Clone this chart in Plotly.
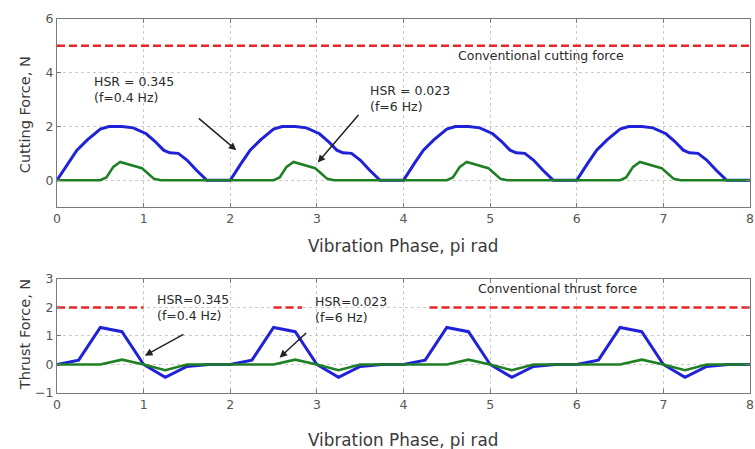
import plotly.graph_objects as go

# ---- data: cutting force (top panel) ----
cut_blue_x = [0, 0.12, 0.23, 0.35, 0.5, 0.6, 0.75, 0.88, 1.03, 1.13, 1.23, 1.3, 1.4, 1.5, 1.61, 1.73,
              2, 2.12, 2.23, 2.35, 2.5, 2.6, 2.75, 2.88, 3.03, 3.13, 3.23, 3.3, 3.4, 3.5, 3.61, 3.73,
              4, 4.12, 4.23, 4.35, 4.5, 4.6, 4.75, 4.88, 5.03, 5.13, 5.23, 5.3, 5.4, 5.5, 5.61, 5.73,
              6, 6.12, 6.23, 6.35, 6.5, 6.6, 6.75, 6.88, 7.03, 7.13, 7.23, 7.3, 7.4, 7.5, 7.61, 7.73, 8]
cut_blue_y = [0, 0.6, 1.12, 1.5, 1.9, 2.0, 2.0, 1.95, 1.73, 1.45, 1.12, 1.02, 1.0, 0.75, 0.37, 0,
              0, 0.6, 1.12, 1.5, 1.9, 2.0, 2.0, 1.95, 1.73, 1.45, 1.12, 1.02, 1.0, 0.75, 0.37, 0,
              0, 0.6, 1.12, 1.5, 1.9, 2.0, 2.0, 1.95, 1.73, 1.45, 1.12, 1.02, 1.0, 0.75, 0.37, 0,
              0, 0.6, 1.12, 1.5, 1.9, 2.0, 2.0, 1.95, 1.73, 1.45, 1.12, 1.02, 1.0, 0.75, 0.37, 0, 0]
cut_green_x = [0, 0.5, 0.57, 0.65, 0.73, 0.85, 0.98, 1.05, 1.12, 1.2,
               2.5, 2.57, 2.65, 2.73, 2.85, 2.98, 3.05, 3.12, 3.2,
               4.5, 4.57, 4.65, 4.73, 4.85, 4.98, 5.05, 5.12, 5.2,
               6.5, 6.57, 6.65, 6.73, 6.85, 6.98, 7.05, 7.12, 7.2, 8]
cut_green_y = [0, 0, 0.1, 0.5, 0.68, 0.57, 0.45, 0.25, 0.05, 0,
               0, 0.1, 0.5, 0.68, 0.57, 0.45, 0.25, 0.05, 0,
               0, 0.1, 0.5, 0.68, 0.57, 0.45, 0.25, 0.05, 0,
               0, 0.1, 0.5, 0.68, 0.57, 0.45, 0.25, 0.05, 0, 0]
cut_conv_x = [0, 8]
cut_conv_y = [5, 5]

# ---- data: thrust force (bottom panel) ----
thr_blue_x = [0, 0.25, 0.5, 0.75, 1.0, 1.25, 1.5, 1.75, 2.0,
              2.25, 2.5, 2.75, 3.0, 3.25, 3.5, 3.75, 4.0,
              4.25, 4.5, 4.75, 5.0, 5.25, 5.5, 5.75, 6.0,
              6.25, 6.5, 6.75, 7.0, 7.25, 7.5, 7.75, 8.0]
thr_blue_y = [0, 0.15, 1.3, 1.15, 0, -0.45, -0.07, 0, 0,
              0.15, 1.3, 1.15, 0, -0.45, -0.07, 0, 0,
              0.15, 1.3, 1.15, 0, -0.45, -0.07, 0, 0,
              0.15, 1.3, 1.15, 0, -0.45, -0.07, 0, 0]
thr_green_x = [0, 0.5, 0.75, 1.0, 1.25, 1.5,
               2.5, 2.75, 3.0, 3.25, 3.5,
               4.5, 4.75, 5.0, 5.25, 5.5,
               6.5, 6.75, 7.0, 7.25, 7.5, 8.0]
thr_green_y = [0, 0, 0.17, 0, -0.2, 0,
               0, 0.17, 0, -0.2, 0,
               0, 0.17, 0, -0.2, 0,
               0, 0.17, 0, -0.2, 0, 0]
thr_conv_x = [0, 1.0, None, 2.5, 2.83, None, 4.3, 8]
thr_conv_y = [2, 2, None, 2, 2, None, 2, 2]

x_ticks = [0, 1, 2, 3, 4, 5, 6, 7, 8]
cut_yticks = [0, 2, 4, 6]
thr_yticks = [-1, 0, 1, 2, 3]

BLUE = "#1f22d6"
GREEN = "#1f7f24"
RED = "#e8262b"
DASH = "8px,4px"

fig = go.Figure()
fig.add_trace(go.Scatter(x=cut_conv_x, y=cut_conv_y, mode="lines",
                         line=dict(color=RED, width=2.5, dash=DASH), xaxis="x", yaxis="y"))
fig.add_trace(go.Scatter(x=cut_blue_x, y=cut_blue_y, mode="lines",
                         line=dict(color=BLUE, width=3), xaxis="x", yaxis="y"))
fig.add_trace(go.Scatter(x=cut_green_x, y=cut_green_y, mode="lines",
                         line=dict(color=GREEN, width=2.6), xaxis="x", yaxis="y"))
fig.add_trace(go.Scatter(x=thr_conv_x, y=thr_conv_y, mode="lines",
                         line=dict(color=RED, width=2.5, dash=DASH), xaxis="x2", yaxis="y2"))
fig.add_trace(go.Scatter(x=thr_blue_x, y=thr_blue_y, mode="lines",
                         line=dict(color=BLUE, width=3), xaxis="x2", yaxis="y2"))
fig.add_trace(go.Scatter(x=thr_green_x, y=thr_green_y, mode="lines",
                         line=dict(color=GREEN, width=2.6), xaxis="x2", yaxis="y2"))

axis_common = dict(showgrid=True, gridcolor="#cccccc", griddash="dot", gridwidth=1,
                   showline=True, linecolor="#7a7a7a", linewidth=1, mirror="ticks",
                   ticks="inside", ticklen=4, tickcolor="#7a7a7a", automargin=False,
                   zeroline=False, tickfont=dict(family="DejaVu Sans", size=12.5, color="#555555"))

fig.update_layout(
    width=755, height=449,
    margin=dict(l=57, r=5, t=19, b=56),
    paper_bgcolor="white", plot_bgcolor="white",
    showlegend=False,
    xaxis=dict(domain=[0, 1], range=[0, 8], tickvals=x_ticks, anchor="y", **axis_common),
    yaxis=dict(domain=[0.497, 1], range=[-1, 6], tickvals=cut_yticks, anchor="x", **axis_common),
    xaxis2=dict(domain=[0, 1], range=[0, 8], tickvals=x_ticks, anchor="y2", **axis_common),
    yaxis2=dict(domain=[0, 0.305], range=[-1, 3], tickvals=thr_yticks, anchor="x2", **axis_common),
)

TFY = dict(family="DejaVu Sans", size=14.5, color="#3a3a3a")
TFX = dict(family="DejaVu Sans", size=16.8, color="#3a3a3a")
AF = dict(family="DejaVu Sans", size=12.5, color="#2a2a2a")
ann = [
    dict(text="Cutting Force, N", xref="paper", yref="paper", x=-0.046, y=0.743,
         textangle=-90, showarrow=False, font=TFY, xanchor="center", yanchor="middle"),
    dict(text="Thrust Force, N", xref="paper", yref="paper", x=-0.046, y=0.155,
         textangle=-90, showarrow=False, font=TFY, xanchor="center", yanchor="middle"),
    dict(text="Vibration Phase, pi rad", xref="paper", yref="paper", x=0.499, y=0.393,
         showarrow=False, font=TFX, xanchor="center", yanchor="middle"),
    dict(text="Vibration Phase, pi rad", xref="paper", yref="paper", x=0.499, y=-0.125,
         showarrow=False, font=TFX, xanchor="center", yanchor="middle"),
    # top panel labels
    dict(text="HSR = 0.345<br>(f=0.4 Hz)", xref="x", yref="y", x=0.40, y=3.38,
         showarrow=False, font=AF, xanchor="left", yanchor="middle", align="left"),
    dict(text="HSR = 0.023<br>(f=6 Hz)", xref="x", yref="y", x=3.59, y=3.05,
         showarrow=False, font=AF, xanchor="left", yanchor="middle", align="left"),
    dict(text="Conventional cutting force", xref="x", yref="y", x=5.59, y=4.65,
         showarrow=False, font=AF, xanchor="center", yanchor="middle"),
    dict(text="", xref="x", yref="y", x=2.07, y=1.12, ax=-39, ay=-33,
         showarrow=True, arrowhead=2, arrowsize=1, arrowwidth=1.5, arrowcolor="#222222"),
    dict(text="", xref="x", yref="y", x=3.01, y=0.66, ax=42, ay=-49,
         showarrow=True, arrowhead=2, arrowsize=1, arrowwidth=1.5, arrowcolor="#222222"),
    # bottom panel labels
    dict(text="HSR=0.345<br>(f=0.4 Hz)", xref="x2", yref="y2", x=1.13, y=2.0,
         showarrow=False, font=AF, xanchor="left", yanchor="middle", align="left"),
    dict(text="HSR=0.023<br>(f=6 Hz)", xref="x2", yref="y2", x=2.95, y=1.92,
         showarrow=False, font=AF, xanchor="left", yanchor="middle", align="left"),
    dict(text="Conventional thrust force", xref="x2", yref="y2", x=5.78, y=2.68,
         showarrow=False, font=AF, xanchor="center", yanchor="middle"),
    dict(text="", xref="x2", yref="y2", x=1.015, y=0.31, ax=40, ay=-22,
         showarrow=True, arrowhead=2, arrowsize=1, arrowwidth=1.5, arrowcolor="#222222"),
    dict(text="", xref="x2", yref="y2", x=2.57, y=0.24, ax=28, ay=-26,
         showarrow=True, arrowhead=2, arrowsize=1, arrowwidth=1.5, arrowcolor="#222222"),
]
fig.update_layout(annotations=ann)

fig.write_html("out.html", config={"displayModeBar": False},
               post_script="document.body.style.margin='0';document.body.style.overflow='hidden';")
